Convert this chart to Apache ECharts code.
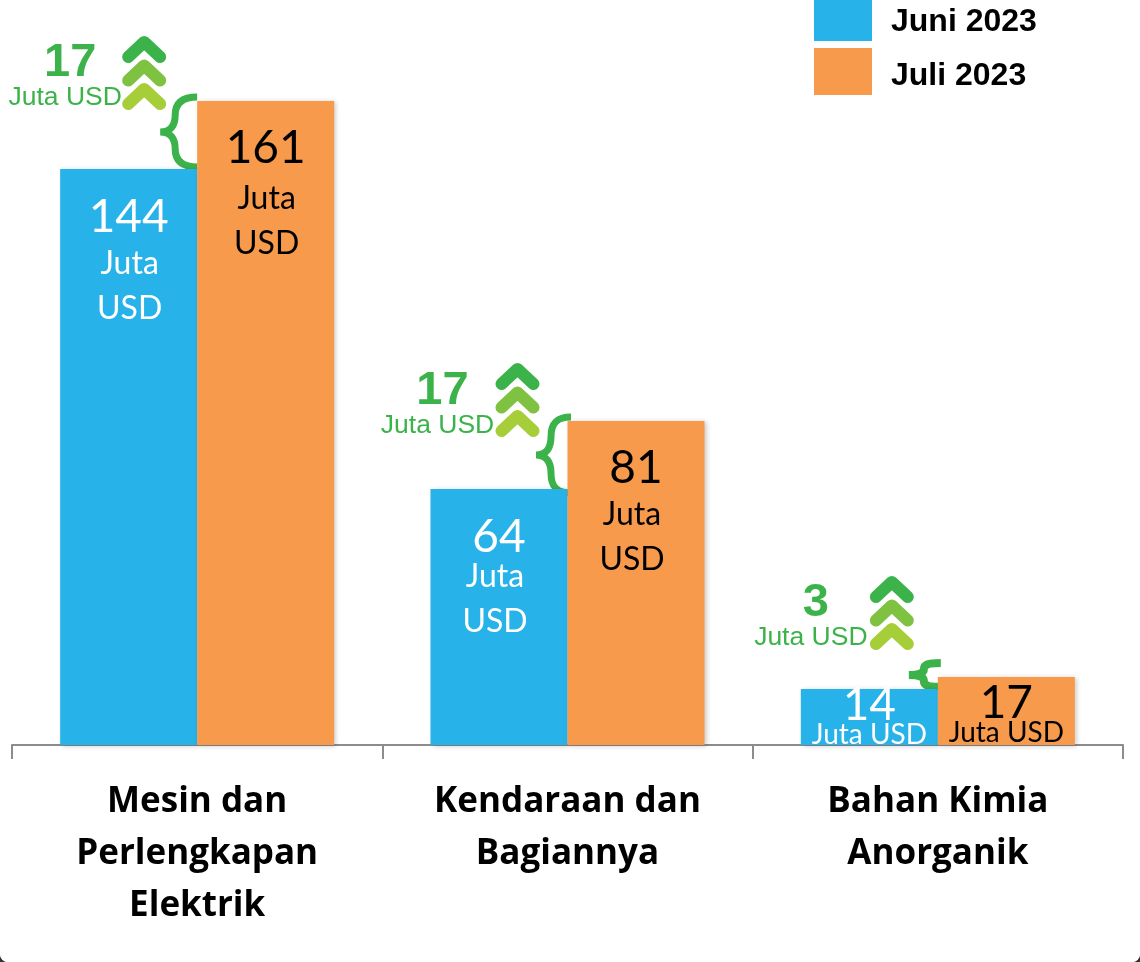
<!DOCTYPE html>
<html>
<head>
<meta charset="utf-8">
<style>html,body{margin:0;padding:0;background:#333;overflow:hidden}#c{width:1140px;height:962px;overflow:hidden;border-radius:0 0 8px 8px;background:#fff}</style>
<script src="https://cdn.jsdelivr.net/npm/echarts@6/dist/echarts.min.js"></script>
</head>
<body>
<div id="c"></div>
<script>
const categories = ['Mesin dan\nPerlengkapan\nElektrik', 'Kendaraan dan\nBagiannya', 'Bahan Kimia\nAnorganik'];
const juni = [144, 64, 14];
const juli = [161, 81, 17];
const deltas = [17, 17, 3];
const seriesNames = ['Juni 2023', 'Juli 2023'];
const unit = 'Juta USD';

// placement of each callout relative to the category centre and the Juli bar top
const calloutOffsets = [
  { textX: -127, numY: -38, unitY: -3, chevX: -53, chevY: -61, braceX: 0, braceW: 37, braceBottom: -2 },
  { textX: -125, numY: -30, unitY: 5, chevX: -50, chevY: -54, braceX: 3.5, braceW: 35, braceBottom: 4 },
  { textX: -122, numY: -74, unitY: -39, chevX: -46, chevY: -97, braceX: 3, braceW: 32, braceBottom: -2 }
];
// per bar [series][category]: number centre below bar top, number-to-unit gap, unit x shift
const labelLayouts = [
  [{ numY: 48, gap: 47, shift: 1 }, { numY: 48, gap: 40, shift: -4 }, { numY: 16, gap: 30, shift: 0 }],
  [{ numY: 47, gap: 51, shift: 1 }, { numY: 47, gap: 47, shift: -4 }, { numY: 26, gap: 30, shift: 0 }]
];

const GREEN = '#3CB34A';
const chevColors = ['#3CB34A', '#7FC241', '#A6CE39'];
const LABEL_FONT = 'Lato, "Open Sans", sans-serif';

function barData(vals, s) {
  const color = s === 0 ? '#fff' : '#000';
  return vals.map((v, i) => {
    const l = labelLayouts[s][i];
    const small = v < 20;
    const uLh = small ? 28 : 45;
    const vLh = 2 * (l.gap - uLh / 2);
    const uPad = l.shift >= 0 ? [0, 0, 0, 2 * l.shift] : [0, -2 * l.shift, 0, 0];
    const uSize = small ? 28 : 32;
    return {
      value: v,
      label: {
        offset: [0, l.numY - vLh / 2],
        formatter: small ? `{v|${v}}\n{u|${unit}}` : `{v|${v}}\n{u|Juta}\n{u|USD}`,
        rich: {
          v: { fontFamily: LABEL_FONT, fontSize: 46, color, lineHeight: vLh },
          u: { fontFamily: LABEL_FONT, fontSize: uSize, color, lineHeight: uLh, padding: uPad }
        }
      }
    };
  });
}
const shadow = { shadowColor: 'rgba(0,0,0,0.22)', shadowBlur: 5, shadowOffsetX: 2, shadowOffsetY: 1 };

function renderCallout(params, api) {
  const i = api.value(0);
  const top1 = api.coord([i, api.value(1)]);
  const top2 = api.coord([i, api.value(2)]);
  const cx = top1[0];
  const o = calloutOffsets[i];
  const y2 = top1[1] + o.braceBottom;
  const y1 = Math.min(top2[1] - 4, y2 - 24);
  const h = y2 - y1, ym = (y1 + y2) / 2;
  const xr = cx + o.braceX, xt = xr - o.braceW, xm = xt + 15;
  const brace = `M${xr} ${y1}C${xr - 14} ${y1} ${xm} ${y1 + h * 0.08} ${xm} ${y1 + h * 0.26}` +
    `C${xm} ${ym - h * 0.1} ${xm - 4} ${ym} ${xt} ${ym}` +
    `C${xm - 4} ${ym} ${xm} ${ym + h * 0.1} ${xm} ${y2 - h * 0.26}` +
    `C${xm} ${y2 - h * 0.08} ${xr - 14} ${y2} ${xr} ${y2}`;
  const ref = top2[1];
  const children = [
    { type: 'path', shape: { pathData: brace, layout: 'center', x: xt, y: y1, width: xr - xt, height: h },
      style: { fill: 'none', stroke: GREEN, lineWidth: h < 30 ? 8 : 7 } },
    { type: 'text', style: { text: String(api.value(3)), x: cx + o.textX, y: ref + o.numY,
        fill: GREEN, font: 'bold 47px "Liberation Sans", Arial, sans-serif', align: 'center', verticalAlign: 'middle' } },
    { type: 'text', style: { text: unit, x: cx + o.textX - 5, y: ref + o.unitY,
        fill: GREEN, font: '26.5px "Liberation Sans", Arial, sans-serif', align: 'center', verticalAlign: 'middle' } }
  ];
  chevColors.forEach((c, k) => {
    const xc = cx + o.chevX, yp = ref + o.chevY + 2 + k * 23.5;
    children.push({ type: 'polyline',
      shape: { points: [[xc - 16, yp + 15], [xc, yp], [xc + 16, yp + 15]] },
      style: { fill: 'none', stroke: c, lineWidth: 12, lineCap: 'round', lineJoin: 'round' } });
  });
  return { type: 'group', children };
}

const chart = echarts.init(document.getElementById('c'), null, { renderer: 'canvas' });
chart.setOption({
  animation: false,
  backgroundColor: '#fff',
  legend: {
    orient: 'vertical', left: 814, top: -6, padding: 0, itemWidth: 58, itemHeight: 47, itemGap: 7,
    data: seriesNames, icon: 'rect', itemStyle: { shadowBlur: 0, shadowOffsetX: 0, shadowOffsetY: 0 },
    formatter: name => `{a|${name}}`,
    textStyle: {
      rich: { a: { fontFamily: '"Liberation Sans", Arial, sans-serif', fontWeight: 'bold', fontSize: 32, color: '#000', lineHeight: 32, padding: [10, 0, 0, 14] } }
    }
  },
  grid: { left: 12, width: 1111, top: 25, height: 720 },
  xAxis: {
    type: 'category', data: categories,
    axisLine: { lineStyle: { color: '#8c8c8c', width: 2 } },
    axisTick: { show: true, alignWithLabel: false, length: 14, lineStyle: { color: '#8c8c8c', width: 2 } },
    axisLabel: { margin: 31, lineHeight: 52, fontFamily: '"Open Sans", sans-serif', fontWeight: 'bold', fontSize: 35, color: '#000', verticalAlign: 'top' }
  },
  yAxis: { type: 'value', min: 0, max: 180, show: false, splitLine: { show: false } },
  series: [
    { name: seriesNames[0], type: 'bar', barWidth: 137, barGap: 0, data: barData(juni, 0),
      itemStyle: { color: '#27B2E9', ...shadow },
      label: { show: true, position: 'insideTop', distance: 0 } },
    { name: seriesNames[1], type: 'bar', barWidth: 137, barGap: 0, data: barData(juli, 1),
      itemStyle: { color: '#F89A4B', ...shadow },
      label: { show: true, position: 'insideTop', distance: 0 } },
    { type: 'custom', renderItem: renderCallout, silent: true, clip: false, z: 1,
      encode: { x: 0, y: 2 },
      data: juni.map((v, i) => [i, v, juli[i], deltas[i]]) }
  ]
});
</script>
</body>
</html>
